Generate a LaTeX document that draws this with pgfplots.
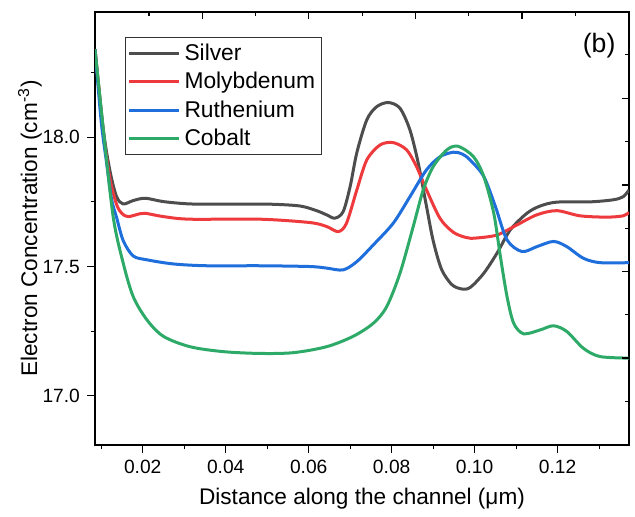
\documentclass[border=0pt]{standalone}
\usepackage{pgfplots}
\pgfplotsset{compat=1.18}
\usepackage{fontspec}
\setmainfont{Liberation Sans}
\definecolor{cAg}{HTML}{4D4D4D}
\definecolor{cMo}{HTML}{EE3A3D}
\definecolor{cRu}{HTML}{1E6FDB}
\definecolor{cCo}{HTML}{2EAA68}
\begin{document}
\begin{tikzpicture}
\begin{axis}[name=main, scale only axis, width=267pt, height=216.5pt,
  xmin=0.0085, xmax=0.1372, ymin=16.81, ymax=18.484,
  xtick={0.02,0.04,0.06,0.08,0.10,0.12},
  minor xtick={0.01,0.03,0.05,0.07,0.09,0.11,0.13},
  ytick={17,17.5,18}, minor ytick={17.25,17.75,18.25},
  xtick pos=bottom, ytick pos=left, tick align=outside,
  major tick length=4pt, minor tick length=2.2pt,
  axis line style={line width=0.75pt},
  every tick/.style={black, line width=0.6pt},
  scaled x ticks=false,
  /pgf/number format/assume math mode=true,
  x tick label style={/pgf/number format/.cd, fixed, fixed zerofill, precision=2, /tikz/.cd},
  y tick label style={/pgf/number format/.cd, fixed, fixed zerofill, precision=1, /tikz/.cd},
  tick label style={font=\fontsize{9.6}{11}\selectfont},
  xlabel={Distance along the channel (μm)},
  ylabel={Electron Concentration (cm\textsuperscript{-3})},
  label style={font=\fontsize{11.3}{13}\selectfont},
  xlabel style={at={(axis description cs:0.5,-0.125)}, anchor=center},
  ylabel style={at={(axis description cs:-0.1217,0.5)}, anchor=center},
  legend style={at={(0.0562,0.9423)}, anchor=north west, draw=black!80, line width=0.5pt,
    font=\fontsize{11.4}{13}\selectfont, row sep=0.5pt, inner xsep=1pt, inner ysep=1pt,
    cells={anchor=west}},
  legend image code/.code={\draw[#1, line width=1.5pt] (0pt,0pt) -- (25pt,0pt);},
  every axis plot/.append style={line width=1.5pt, smooth, no markers},
]
\addplot[cAg] coordinates {
(0.0085,18.34) (0.0105,18.03) (0.0121,17.87) (0.0137,17.77) (0.0153,17.742)
(0.0177,17.755) (0.0206,17.764) (0.0250,17.751) (0.0314,17.742) (0.0400,17.741)
(0.0507,17.741) (0.0579,17.734) (0.0619,17.716) (0.0643,17.70) (0.0663,17.687)
(0.0683,17.712) (0.0700,17.81) (0.0716,17.94) (0.0740,18.067) (0.0764,18.118)
(0.0792,18.134) (0.0820,18.112) (0.0844,18.028) (0.0864,17.90) (0.0884,17.732)
(0.0900,17.60) (0.0920,17.49) (0.0945,17.43) (0.0970,17.413) (0.0990,17.42)
(0.1022,17.474) (0.1054,17.552) (0.1086,17.642) (0.1126,17.706) (0.1158,17.734)
(0.1198,17.749) (0.1278,17.75) (0.1334,17.758) (0.1358,17.77) (0.1372,17.796)
};
\addlegendentry{Silver}
\addplot[cMo] coordinates {
(0.0085,18.34) (0.0105,18.02) (0.0121,17.84) (0.0137,17.74) (0.0150,17.705)
(0.0165,17.693) (0.0193,17.704) (0.0206,17.706) (0.0250,17.693) (0.0314,17.683)
(0.0483,17.683) (0.0603,17.67) (0.0643,17.655) (0.0671,17.635) (0.0691,17.667)
(0.0716,17.796) (0.0740,17.912) (0.0772,17.97) (0.0804,17.979) (0.0836,17.951)
(0.0860,17.886) (0.0884,17.796) (0.0917,17.685) (0.0949,17.632) (0.0980,17.612)
(0.1002,17.61) (0.1054,17.622) (0.1102,17.661) (0.1150,17.70) (0.1198,17.716)
(0.1254,17.696) (0.1318,17.691) (0.1358,17.696) (0.1372,17.709)
};
\addlegendentry{Molybdenum}
\addplot[cRu] coordinates {
(0.0085,18.34) (0.0100,18.06) (0.0113,17.90) (0.0125,17.76) (0.0137,17.69)
(0.0153,17.60) (0.0177,17.541) (0.0210,17.526) (0.0274,17.51) (0.0354,17.503)
(0.0483,17.503) (0.0603,17.50) (0.0643,17.494) (0.0683,17.487) (0.0716,17.519)
(0.0756,17.584) (0.0804,17.668) (0.0844,17.77) (0.0884,17.874) (0.0917,17.925)
(0.0949,17.942) (0.0970,17.935) (0.0989,17.912) (0.1022,17.848) (0.1050,17.732)
(0.1078,17.603) (0.1114,17.558) (0.1150,17.577) (0.1190,17.597) (0.1222,17.577)
(0.1262,17.532) (0.1302,17.515) (0.1372,17.515)
};
\addlegendentry{Ruthenium}
\addplot[cCo] coordinates {
(0.0085,18.34) (0.0105,18.03) (0.0129,17.69) (0.0153,17.513) (0.0177,17.384)
(0.0210,17.294) (0.0250,17.23) (0.0314,17.19) (0.0394,17.171) (0.0483,17.164)
(0.0563,17.167) (0.0643,17.19) (0.0707,17.23) (0.0756,17.281) (0.0788,17.345)
(0.0820,17.474) (0.0852,17.655) (0.0876,17.796) (0.0900,17.886) (0.0933,17.951)
(0.0960,17.965) (0.0997,17.925) (0.1022,17.848) (0.1046,17.706) (0.1062,17.539)
(0.1078,17.384) (0.1094,17.281) (0.1118,17.24) (0.1158,17.255) (0.1190,17.271)
(0.1222,17.249) (0.1262,17.184) (0.1302,17.152) (0.1372,17.146)
};
\addlegendentry{Cobalt}
\node[font=\fontsize{13.3}{15}\selectfont] at (axis description cs:0.944,0.9226) {(b)};
\end{axis}
\begin{axis}[scale only axis, width=267pt, height=216.5pt,
  xmin=95, xmax=629, ymin=-445, ymax=-12,
  axis line style={draw=none},
  xtick pos=upper, ytick pos=right, tick align=inside,
  xtick={202.3,308.8,415.4,522}, minor xtick={149,255.6,362.1,468.7,575.3},
  ytick={-98.3,-185,-271.7,-358}, minor ytick={-54.3,-141.7,-228.3,-314.7,-401.3},
  xticklabels={}, yticklabels={},
  major tick length=3.5pt, minor tick length=2pt,
  every tick/.style={black, line width=0.6pt},
]
\end{axis}
\pgfresetboundingbox
\path[use as bounding box] ([xshift=-47.5pt,yshift=-35.5pt]main.south west) rectangle ([xshift=3pt,yshift=6pt]main.north east);
\end{tikzpicture}
\end{document}
